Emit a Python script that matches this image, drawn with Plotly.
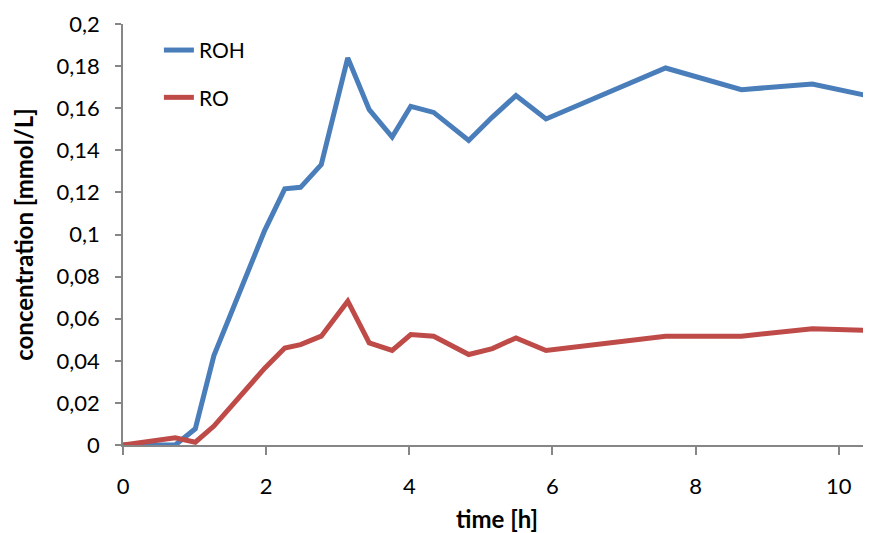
import plotly.graph_objects as go

time_h = [0, 0.73, 1.01, 1.27, 1.98, 2.26, 2.48, 2.77, 3.14, 3.44, 3.76, 4.02, 4.34, 4.83, 5.16, 5.49, 5.91, 7.58, 8.64, 9.63, 10.45]
roh = [0, 0.0, 0.0077, 0.0425, 0.102, 0.1217, 0.1224, 0.1332, 0.1839, 0.1593, 0.1463, 0.1609, 0.158, 0.1447, 0.1558, 0.166, 0.1549, 0.1791, 0.1688, 0.1715, 0.1656]
ro = [0, 0.0034, 0.0013, 0.009, 0.0365, 0.0461, 0.0477, 0.0517, 0.0683, 0.0485, 0.0449, 0.0525, 0.0517, 0.043, 0.0458, 0.0509, 0.0449, 0.0517, 0.0517, 0.0552, 0.0544]

y_tickvals = [0, 0.02, 0.04, 0.06, 0.08, 0.1, 0.12, 0.14, 0.16, 0.18, 0.2]
y_ticktext = ["0", "0,02", "0,04", "0,06", "0,08", "0,1", "0,12", "0,14", "0,16", "0,18", "0,2"]
x_tickvals = [0, 2, 4, 6, 8, 10]

FONT = "Lato, 'Open Sans', sans-serif"
AXIS = "#868686"

fig = go.Figure()
fig.add_trace(go.Scatter(x=time_h, y=roh, mode="lines", name="ROH", legendgroup="a",
                         line=dict(color="#4A7EBB", width=5)))
fig.add_trace(go.Scatter(x=time_h, y=ro, mode="lines", name="RO", legendgroup="b",
                         line=dict(color="#BE4B48", width=5)))

fig.update_layout(
    width=863, height=525,
    margin=dict(l=115, r=0, t=16, b=87.5),
    paper_bgcolor="white", plot_bgcolor="white",
    font=dict(family=FONT, size=21, color="black"),
    showlegend=True,
    legend=dict(x=0.048, y=0.986, xanchor="left", yanchor="top",
                bgcolor="rgba(0,0,0,0)", font=dict(size=21, family=FONT),
                traceorder="grouped", tracegroupgap=17),
    xaxis=dict(range=[0, 10.45], tickvals=x_tickvals, ticks="outside", ticklen=8,
               tickcolor=AXIS, tickwidth=1.5, showline=True, linecolor=AXIS, linewidth=1.5,
               showgrid=False, zeroline=False, tickfont=dict(size=22),
               ticklabelstandoff=13,
               title=dict(text="<b>time [h]</b>", font=dict(size=24), standoff=13)),
    yaxis=dict(range=[0, 0.2], tickvals=y_tickvals, ticktext=y_ticktext, ticks="outside",
               ticklen=6, tickcolor=AXIS, tickwidth=1.5, showline=True, linecolor=AXIS,
               linewidth=1.5, showgrid=False, zeroline=False, tickfont=dict(size=22),
               ticklabelstandoff=11,
               title=dict(text="<b>concentration [mmol/L]</b>", font=dict(size=24), standoff=16)),
)

fig.write_html("out.html")
